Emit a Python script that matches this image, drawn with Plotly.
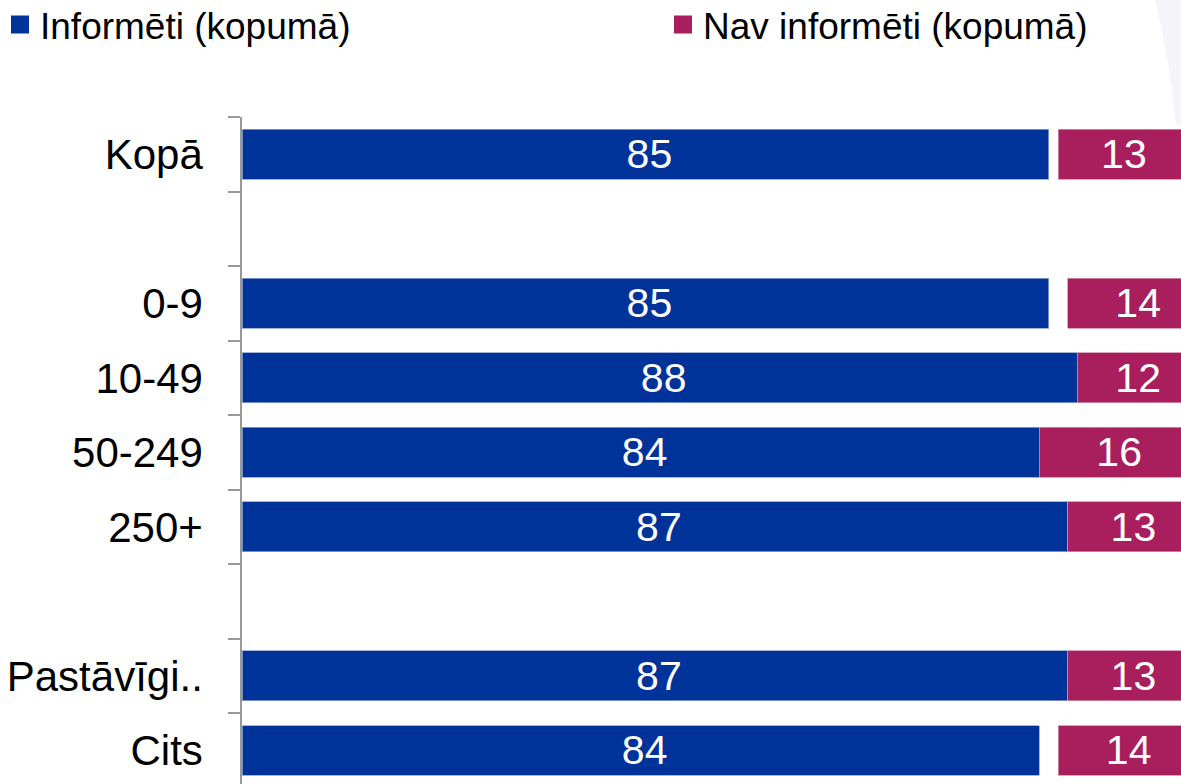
import plotly.graph_objects as go

categories = ["Kopā", " ", "0-9", "10-49", "50-249", "250+", "  ", "Pastāvīgi..", "Cits"]
informeti = [85, None, 85, 88, 84, 87, None, 87, 84]
gap = [1, None, 2, 0, 0, 0, None, 0, 2]
nav_informeti = [13, None, 14, 12, 16, 13, None, 13, 14]

series_names = ["Informēti (kopumā)", "Nav informēti (kopumā)"]
BLUE = "#003399"
MAGENTA = "#A91E5D"
FONT = "Arial, Liberation Sans, sans-serif"

W, H = 1181, 784
ML, MT = 242, 117
PW, PH = W - ML, H - MT


def labels(vals):
    # thin space prefix nudges the centred label slightly right, as in the source
    return ["\u2009" + str(v) if v is not None else "" for v in vals]


fig = go.Figure()

fig.add_trace(go.Bar(
    y=categories, x=informeti, orientation="h", name=series_names[0],
    marker=dict(color=BLUE, line=dict(color="#8fa3d1", width=0.8)),
    text=labels(informeti),
    textposition="inside", insidetextanchor="middle", textangle=0,
    constraintext="none",
    insidetextfont=dict(color="white", size=41, family=FONT),
    width=0.67, showlegend=False, hoverinfo="skip",
))
fig.add_trace(go.Bar(
    y=categories, x=gap, orientation="h", name="gap",
    marker=dict(color="rgba(0,0,0,0)", line=dict(width=0)),
    width=0.67, showlegend=False, hoverinfo="skip",
))
fig.add_trace(go.Bar(
    y=categories, x=nav_informeti, orientation="h", name=series_names[1],
    marker=dict(color=MAGENTA, line=dict(color="#d58fae", width=0.8)),
    text=labels(nav_informeti),
    textposition="inside", insidetextanchor="middle", textangle=0,
    constraintext="none",
    insidetextfont=dict(color="white", size=41, family=FONT),
    width=0.67, showlegend=False, hoverinfo="skip",
))

# legend entries (two separate legends so they sit far apart on one row)
for name, col, lg in zip(series_names, [BLUE, MAGENTA], ["legend", "legend2"]):
    fig.add_trace(go.Scatter(
        x=[None], y=[None], mode="markers", name=name, legend=lg,
        marker=dict(symbol="square", size=16, color=col, line=dict(color=col, width=2)),
        showlegend=True, hoverinfo="skip",
    ))


def px(xp):
    return (xp - ML) / PW


def py(yp):
    return 1 - (yp - MT) / PH


# faint background swirl at top right
fig.add_shape(
    type="path", xref="paper", yref="paper", layer="below",
    path=(f"M {px(1155):.4f} {py(0):.4f} Q {px(1170):.4f} {py(60):.4f} {px(1176):.4f} {py(125):.4f} "
          f"L {px(1181):.4f} {py(125):.4f} L {px(1181):.4f} {py(0):.4f} Z"),
    fillcolor="#f4f4fa", line=dict(width=0),
)

legend_common = dict(
    orientation="h", xref="container", yref="container",
    yanchor="middle", xanchor="left", y=1 - 25 / H,
    font=dict(size=37, family=FONT, color="black"),
    itemsizing="trace", bgcolor="rgba(0,0,0,0)",
)

fig.update_layout(
    width=W, height=H,
    margin=dict(l=ML, r=0, t=MT, b=0, pad=0, autoexpand=False),
    barmode="stack",
    plot_bgcolor="white", paper_bgcolor="white",
    font=dict(family=FONT, color="black"),
    legend=dict(legend_common, x=0 / W),
    legend2=dict(legend_common, x=663 / W),
    xaxis=dict(
        range=[0, 98.95], showgrid=False, zeroline=False, automargin=False,
        showticklabels=False, ticks="", showline=False, fixedrange=True,
    ),
    yaxis=dict(
        type="category", categoryorder="array", categoryarray=categories,
        range=[8.45, -0.5], showgrid=False, zeroline=False, automargin=False,
        showline=True, linecolor="#999999", linewidth=1.5,
        ticks="outside", tickson="boundaries", ticklen=12,
        tickcolor="#999999", tickwidth=1.5,
        ticklabelstandoff=29,
        tickfont=dict(size=42, family=FONT, color="black"),
        fixedrange=True,
    ),
)

fig.write_html(
    "out.html",
    config={"displayModeBar": False},
    post_script="document.body.style.margin='0';document.body.style.overflow='hidden';",
)
